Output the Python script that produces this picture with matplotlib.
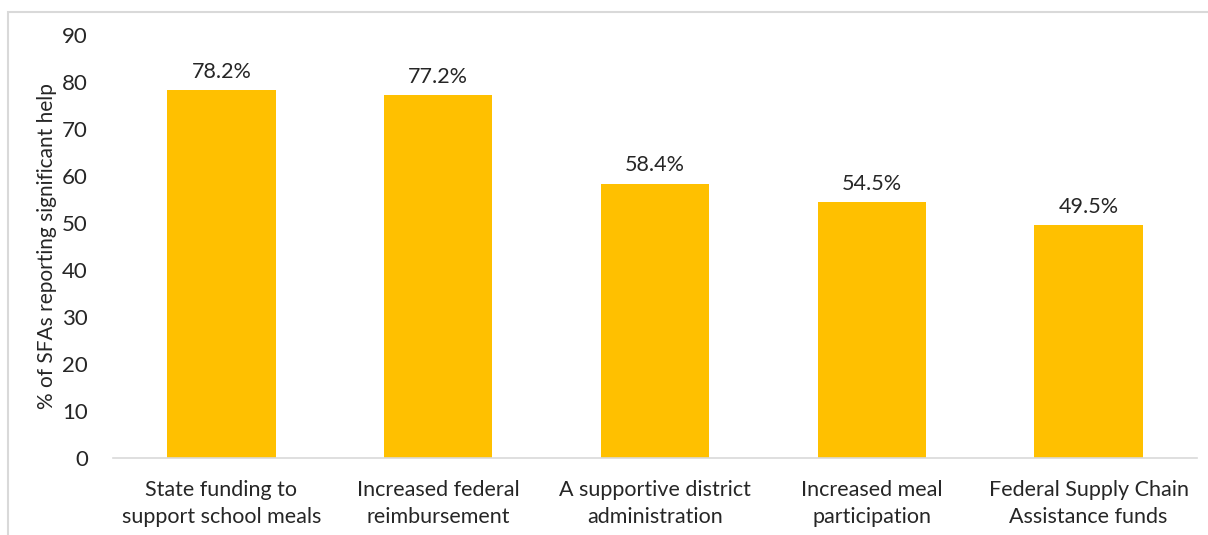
import matplotlib
matplotlib.use("Agg")
import matplotlib.pyplot as plt
from matplotlib.patches import Rectangle

categories = ["State funding to\nsupport school meals",
              "Increased federal\nreimbursement",
              "A supportive district\nadministration",
              "Increased meal\nparticipation",
              "Federal Supply Chain\nAssistance funds"]
values = [78.2, 77.2, 58.4, 54.5, 49.5]
yticks = [0, 10, 20, 30, 40, 50, 60, 70, 80, 90]

plt.rcParams['font.family'] = ['Lato', 'DejaVu Sans']

W, H = 1208, 535
fig = plt.figure(figsize=(W / 100, H / 100), dpi=100)
ax = fig.add_axes([113 / W, 1 - 458 / H, (1197 - 113) / W, (458 - 35) / H])

x = range(len(categories))
bars = ax.bar(x, values, width=0.5, color="#FFC000", zorder=2)
for xi, v in zip(x, values):
    ax.annotate(f"{v:.1f}%", (xi, v), xytext=(0, 6), textcoords="offset points",
                ha="center", va="bottom", fontsize=15.5, color="#262626")

ax.set_xlim(-0.5, len(categories) - 0.5)
ax.set_ylim(0, 90)
ax.set_yticks(yticks)
ax.set_xticks(list(x))
ax.set_xticklabels(categories, fontsize=15.5, color="#262626", linespacing=1.45)
ax.tick_params(axis="y", labelsize=16, labelcolor="#262626", length=0, pad=18)
ax.tick_params(axis="x", length=0, pad=16)
for s in ["top", "right", "left"]:
    ax.spines[s].set_visible(False)
ax.spines["bottom"].set_color("#D9D9D9")
ax.spines["bottom"].set_linewidth(1.2)
ax.set_ylabel("% of SFAs reporting significant help", fontsize=15, color="#262626")
ax.yaxis.set_label_coords(-(113 - 57) / (1197 - 113), 0.5)

border = Rectangle((8 / W, -0.1), 1.2, 1 - 12 / H + 0.1, transform=fig.transFigure,
                   fill=False, edgecolor="#D9D9D9", linewidth=1.5)
fig.patches.append(border)

fig.savefig("out.png", dpi=100)
